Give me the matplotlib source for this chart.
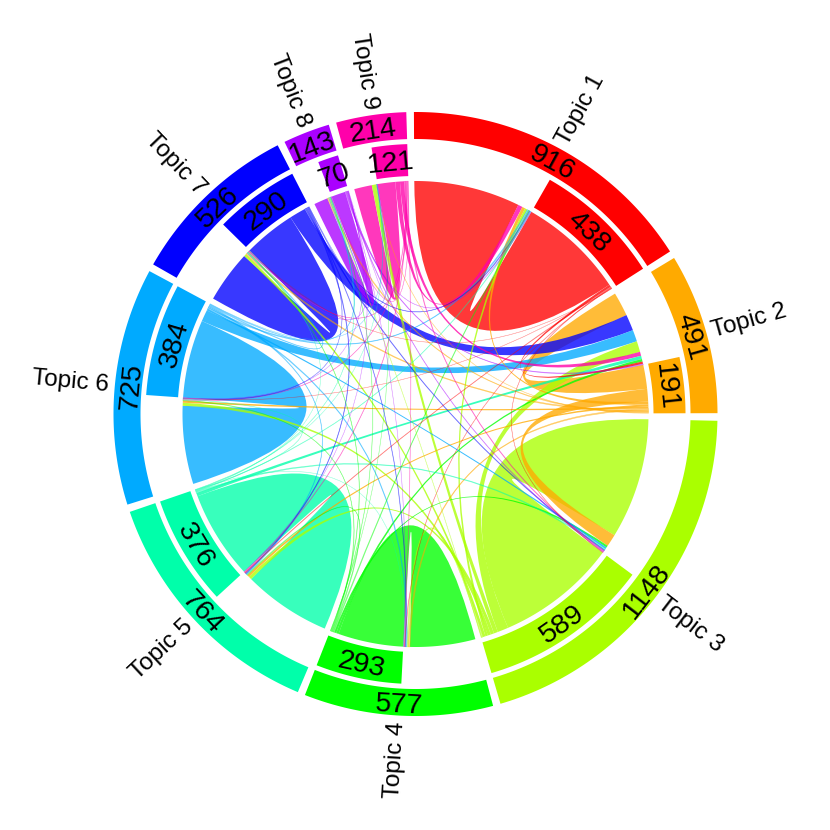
import numpy as np
import matplotlib
matplotlib.use("Agg")
import matplotlib.pyplot as plt
from matplotlib.path import Path
from matplotlib.patches import PathPatch, Polygon

plt.rcParams['font.family'] = ['Liberation Sans', 'DejaVu Sans']

######################################
## data ##############################
######################################
topics = ["Topic 1", "Topic 2", "Topic 3", "Topic 4", "Topic 5",
          "Topic 6", "Topic 7", "Topic 8", "Topic 9"]
colors = ["#FF0000", "#FFAA00", "#AAFF00", "#00FF00", "#00FFAA",
          "#00AAFF", "#0000FF", "#AA00FF", "#FF00AA"]
outer_labels = [916, 491, 1148, 577, 764, 725, 526, 143, 214]
inner_labels = [438, 191, 589, 293, 376, 384, 290, 70, 121]

# flows[i][j] : topic i -> topic j (rows sum to the inner values)
flows = np.array([
    [420,  9,   2,   2,   3,   1,   1,  0,  0],
    [ 12, 95,  49,   6,   8,   8,   6,  5,  2],
    [ 10, 43, 477,   6,  13,  12,  10,  2, 16],
    [  4, 10,   8, 258,   4,   3,   3,  2,  1],
    [  3, 13,   5,   1, 348,   2,   1,  2,  1],
    [  5, 46,   7,   5,   4, 309,   4,  3,  1],
    [  4, 64,   4,   3,   4,   2, 206,  2,  1],
    [  2,  4,   3,   1,   1,   1,   2, 55,  1],
    [ 18, 16,   4,   2,   3,   3,   3,  2, 70],
])

######################################
## layout ############################
######################################
CX, CY = 415.5, 414.0
R_CHORD = 233
R_IN = (238, 270)
R_OUT = (275, 302)
R_LABEL = 308
GAP = 1.45
START = -0.3

n = len(topics)
row_sum = flows.sum(axis=1)
col_sum = flows.sum(axis=0)
sizes = row_sum + col_sum
unit = (360 - GAP * n) / sizes.sum()

starts = []
a = START
for k in range(n):
    starts.append(a)
    a += sizes[k] * unit + GAP
starts = np.array(starts)
ends = starts + sizes * unit
split = starts + col_sum * unit   # incoming part first, outgoing part after


def pt(theta, r):
    t = np.radians(theta)
    return (CX + r * np.sin(t), CY - r * np.cos(t))


def band(t1, t2, r1, r2, color):
    ts = np.linspace(t1, t2, 80)
    verts = [pt(t, r2) for t in ts] + [pt(t, r1) for t in ts[::-1]]
    return Polygon(verts, closed=True, fc=color, ec='none', lw=0)


def ribbon(a1, a2, b1, b2):
    arc1 = [pt(t, R_CHORD) for t in np.linspace(a1, a2, 40)]
    arc2 = [pt(t, R_CHORD) for t in np.linspace(b1, b2, 40)]
    verts = arc1 + [(CX, CY), arc2[0]] + arc2[1:] + [(CX, CY), arc1[0]]
    codes = ([Path.MOVETO] + [Path.LINETO] * (len(arc1) - 1) +
             [Path.CURVE3, Path.CURVE3] + [Path.LINETO] * (len(arc2) - 1) +
             [Path.CURVE3, Path.CURVE3])
    return Path(verts, codes)


# end positions of every link: self first, then the others by size
in_pos = {}
out_pos = {}
for k in range(n):
    order = [k] + sorted([j for j in range(n) if j != k], key=lambda j: -flows[j, k])
    p = starts[k]
    for src in order:
        v = flows[src, k]
        in_pos[(src, k)] = (p, p + v * unit)
        p += v * unit
    order = [k] + sorted([j for j in range(n) if j != k], key=lambda j: -flows[k, j])
    p = split[k]
    for dst in order:
        v = flows[k, dst]
        out_pos[(k, dst)] = (p, p + v * unit)
        p += v * unit

######################################
## plot ##############################
######################################
fig = plt.figure(figsize=(8.3, 8.3), dpi=100)
ax = fig.add_axes([0, 0, 1, 1])
ax.set_xlim(0, 830)
ax.set_ylim(830, 0)
ax.set_aspect('equal')
ax.axis('off')

links = [(flows[i, j], i, j) for i in range(n) for j in range(n) if flows[i, j] > 0]
links.sort(key=lambda x: -x[0])
for v, i, j in links:
    a1, a2 = out_pos[(i, j)]
    b1, b2 = in_pos[(i, j)]
    if v > 6:
        ax.add_patch(PathPatch(ribbon(a1, a2, b1, b2), fc=colors[i], ec='none',
                               lw=0, alpha=0.78))
    else:
        # thin links: faint hairlines
        ax.add_patch(PathPatch(ribbon(a1, a2, b1, b2), fc=colors[i], ec=colors[i],
                               lw=0.4, alpha=0.18 + 0.05 * v))

for k in range(n):
    ax.add_patch(band(starts[k], ends[k], R_OUT[0], R_OUT[1], colors[k]))
    ax.add_patch(band(split[k], ends[k], R_IN[0], R_IN[1], colors[k]))

    # value labels along the tracks
    for (t1, t2, rr, txt) in [(starts[k], ends[k], R_OUT, outer_labels[k]),
                              (split[k], ends[k], R_IN, inner_labels[k])]:
        m = (t1 + t2) / 2
        rot = 180 - m if 90 < m < 270 else -m
        x, y = pt(m, (rr[0] + rr[1]) / 2)
        ax.text(x, y, str(txt), fontsize=20.5, rotation=rot, rotation_mode='anchor',
                ha='center', va='center_baseline')

    # topic names
    m = (starts[k] + ends[k]) / 2
    x, y = pt(m, R_LABEL)
    if m < 180:
        ax.text(x, y, topics[k], fontsize=17.5, rotation=90 - m,
                rotation_mode='anchor', ha='left', va='center')
    else:
        ax.text(x, y, topics[k], fontsize=17.5, rotation=270 - m,
                rotation_mode='anchor', ha='right', va='center')

fig.savefig("out.png", dpi=100, facecolor='white')
